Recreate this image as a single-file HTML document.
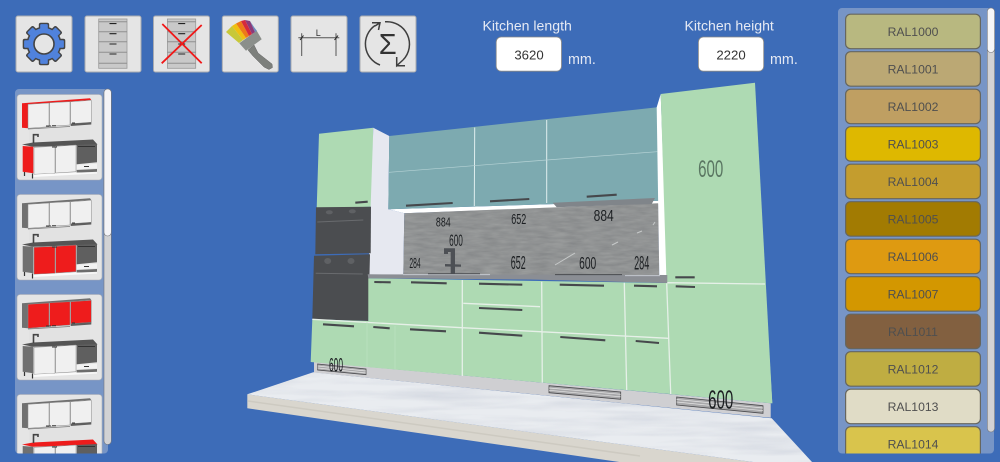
<!DOCTYPE html>
<html><head><meta charset="utf-8"><title>Kitchen</title>
<style>
html,body{margin:0;padding:0;background:#3d6cb8;width:1000px;height:462px;overflow:hidden}
svg{display:block}
text{font-family:"Liberation Sans",sans-serif}
.ral{font-size:12.2px;fill:#4f4f4f;text-anchor:middle}
.sw{stroke:#66665f;stroke-width:1.2}
.btn{fill:#e5e5e5;stroke:#a9abb0;stroke-width:1}
.dim{fill:#1c1f22}
.h{stroke:#46484c;stroke-width:2.1;fill:none}
.wl{stroke:#e6f0e8;stroke-width:1.3;fill:none}
.d{stroke:#8c8c8c;stroke-width:.5}
</style></head><body>
<svg width="1000" height="462" viewBox="0 0 1000 462" xmlns="http://www.w3.org/2000/svg">
<defs>
<filter id="stone" x="0" y="0" width="100%" height="100%" color-interpolation-filters="sRGB"><feTurbulence type="fractalNoise" baseFrequency="0.06 0.3" numOctaves="3" seed="5"/><feColorMatrix values="0 0 0 0 .46  0 0 0 0 .47  0 0 0 0 .48  .8 0 0 0 -.15"/><feComposite in2="SourceGraphic" operator="in"/><feMerge><feMergeNode in="SourceGraphic"/><feMergeNode/></feMerge></filter>
<filter id="marble" x="0" y="0" width="100%" height="100%" color-interpolation-filters="sRGB"><feTurbulence type="fractalNoise" baseFrequency="0.01 0.11" numOctaves="3" seed="8"/><feColorMatrix values="0 0 0 0 .8  0 0 0 0 .82  0 0 0 0 .86  1.4 0 0 0 -.55"/><feComposite in2="SourceGraphic" operator="in"/><feMerge><feMergeNode in="SourceGraphic"/><feMergeNode/></feMerge></filter>
<clipPath id="leftclip"><rect x="15" y="89" width="93" height="364.5" rx="4"/></clipPath>
<clipPath id="rightclip"><rect x="838" y="8" width="156" height="445.5" rx="4"/></clipPath>
<g id="cab">
<rect x="98.7" y="19" width="28.3" height="49.3" fill="#c9c9c9" stroke="#9a9a9a" stroke-width=".8"/>
<path d="M98.7 21.7H127M98.7 31.7H127M98.7 41.7H127M98.7 52.3H127M98.7 63.3H127" stroke="#8f8f8f" stroke-width="1"/>
<path d="M109.5 23.6h7M109.5 33.7h7M109.5 44h7M109.5 54h7" stroke="#222" stroke-width="1.1"/>
</g>
<g id="mini">
<polygon points="29,108 90,104 90,160 29,165" fill="#e2e2e2"/>
<polygon points="22,103.3 90,98.3 91.3,100 28,105" style="fill:var(--us)"/>
<polygon points="22,103.3 28,104.3 28,128.3 22,127.7" style="fill:var(--us)"/>
<polygon class="d" points="28,104.3 49,103 49,126.7 28,128.3" style="fill:var(--ud)"/>
<polygon class="d" points="49.7,102.7 70,101.7 70,125 49.7,126.3" style="fill:var(--ud)"/>
<polygon class="d" points="70.7,101.7 91.3,100.3 91.3,122.3 70.7,123.7" style="fill:var(--ud)"/>
<polygon points="70.7,123.7 91.3,122.3 91.3,124.5 70.7,126" fill="#5e5e5e"/>
<path d="M28 129 L70 126.5" stroke="#777" stroke-width=".7"/>
<path d="M46 126h5M52 125.7h4M72 123h3" stroke="#333" stroke-width="1"/>
<polygon points="22,144.5 33,142.5 93,139.5 97.5,144.5 33,146.7" style="fill:var(--c)"/>
<path d="M33.5 143V134.7H38V137" stroke="#444" stroke-width="1.6" fill="none"/>
<polygon points="22.7,146 33.3,146.7 33.3,173.3 22.7,171.7" style="fill:var(--bs)"/>
<polygon class="d" points="34,147.3 55,146.3 55,173.3 34,174.3" style="fill:var(--bd)"/>
<polygon class="d" points="55.7,146.3 76,145 76,171.7 55.7,173" style="fill:var(--bd)"/>
<polygon points="76.7,145 97,144 97,162.3 76.7,164.3" fill="#5f5f5f"/>
<polygon points="76.7,165 97,163.7 97,168.3 76.7,169.3" fill="#f2f2f2"/>
<polygon points="76.7,170 97,169 97,171.7 76.7,172.7" fill="#6d6d6d"/>
<path d="M84 166.5h5M52 147h5M78 146.5h17" stroke="#333" stroke-width=".9"/>
<polygon points="33.3,174.5 76,172.5 97,172.3 97,173.5 33.3,177" fill="#fafafa"/>
<path d="M24.5 172v4M32.5 173.5v5" stroke="#333" stroke-width="1.2"/>
</g>
</defs>
<rect width="1000" height="462" fill="#3d6cb8"/>

<!-- toolbar -->
<rect class="btn" x="16" y="16" width="56" height="56" rx="2"/>
<rect class="btn" x="85" y="16" width="56" height="56" rx="2"/>
<rect class="btn" x="153.5" y="16" width="56" height="56" rx="2"/>
<rect class="btn" x="222.3" y="16" width="56" height="56" rx="2"/>
<rect class="btn" x="291" y="16" width="56" height="56" rx="2"/>
<rect class="btn" x="360" y="16" width="56" height="56" rx="2"/>
<g transform="translate(44 44)">
<circle r="17.5" fill="#444"/>
<g fill="#444"><rect x="-5.2" y="-21.3" width="10.4" height="42.6" rx="2"/><rect x="-5.2" y="-21.3" width="10.4" height="42.6" rx="2" transform="rotate(45)"/><rect x="-5.2" y="-21.3" width="10.4" height="42.6" rx="2" transform="rotate(90)"/><rect x="-5.2" y="-21.3" width="10.4" height="42.6" rx="2" transform="rotate(135)"/></g>
<circle r="16" fill="#5082dc"/>
<g fill="#5082dc"><rect x="-3.8" y="-19.9" width="7.6" height="39.8" rx="1"/><rect x="-3.8" y="-19.9" width="7.6" height="39.8" rx="1" transform="rotate(45)"/><rect x="-3.8" y="-19.9" width="7.6" height="39.8" rx="1" transform="rotate(90)"/><rect x="-3.8" y="-19.9" width="7.6" height="39.8" rx="1" transform="rotate(135)"/></g>
<circle r="10" fill="#e5e5e5" stroke="#444" stroke-width="1.6"/>
</g>
<use href="#cab"/>
<use href="#cab" x="68.7"/>
<path d="M162.3 24L201.7 63.3M201.7 25L161.7 63.3" stroke="#f01818" stroke-width="1.8"/>
<polygon points="248,50 254,45 258,53 272,64 272.5,67.5 269,69.5 264,67 253,56" fill="#7d807c" stroke="#666" stroke-width=".5"/>
<polygon points="239.3,43.3 256.7,30.7 261.7,39.3 246,50.7" fill="#8b8f8b"/>
<polygon points="239,43 243,40 232,26 226,32" fill="#c8c838"/>
<polygon points="243,40 246,38 236,23.5 232,26" fill="#f0c010"/>
<polygon points="246,38 249,36 241,21 236,23.5" fill="#ee7a18"/>
<polygon points="249,36 252,34 245,20 241,21" fill="#d62a3c"/>
<polygon points="252,34 255,32 250,21 245,20" fill="#8c3a78"/>
<polygon points="255,32 257,31 254,27 250,21" fill="#6a8abc"/>
<path d="M298.3 37.7H339.3M301.7 33.3V56M336 33.3V56" stroke="#555" stroke-width="1"/>
<path d="M300 40l3.5-4.5M334.5 40l3.5-4.5" stroke="#222" stroke-width="1"/>
<text x="318.3" y="36" font-size="9" fill="#333" text-anchor="middle">L</text>
<g fill="none" stroke="#3f3f3f" stroke-width="1.5">
<path d="M385 21.8A22.5 22.5 0 0 1 403 60"/>
<path d="M396.7 65.7H405M396.7 57V65.7L403 60"/>
<path d="M380 65A22.5 22.5 0 0 1 375 25.5"/>
<path d="M372 22.7H380L378.5 30M380 22.7L375 26"/>
</g>
<text x="387.7" y="54" font-size="29" fill="#333" text-anchor="middle">Σ</text>

<!-- inputs -->
<text x="482.5" y="30.5" font-size="14.1" fill="#e6eaf4">Kitchen length</text>
<text x="684.5" y="30.5" font-size="14.1" fill="#e6eaf4">Kitchen height</text>
<rect x="496.2" y="37" width="65.3" height="34.2" rx="5" fill="#fff" stroke="#888" stroke-width=".8"/>
<rect x="698.4" y="37" width="65.3" height="34.2" rx="5" fill="#fff" stroke="#888" stroke-width=".8"/>
<text x="529" y="59.5" font-size="13.2" fill="#333" text-anchor="middle">3620</text>
<text x="731" y="59.5" font-size="13.2" fill="#333" text-anchor="middle">2220</text>
<text x="568" y="64" font-size="14.3" fill="#e6eaf4">mm.</text>
<text x="770" y="64" font-size="14.3" fill="#e6eaf4">mm.</text>

<!-- left panel -->
<rect x="15" y="89" width="93" height="364.5" rx="4" fill="#7795c6"/>
<g clip-path="url(#leftclip)">
<rect x="17" y="94.5" width="85" height="85.5" rx="3" fill="#e5e5e5" stroke="#a9acb2" stroke-width=".6"/>
<rect x="17" y="194.5" width="85" height="85.5" rx="3" fill="#e5e5e5" stroke="#a9acb2" stroke-width=".6"/>
<rect x="17" y="294.5" width="85" height="85.5" rx="3" fill="#e5e5e5" stroke="#a9acb2" stroke-width=".6"/>
<rect x="17" y="394.5" width="85" height="85.5" rx="3" fill="#e5e5e5" stroke="#a9acb2" stroke-width=".6"/>
<use href="#mini" style="--us:#ee1c1c;--ud:#f0f0f0;--c:#555;--bs:#ee1c1c;--bd:#f0f0f0"/>
<use href="#mini" y="100" style="--us:#707070;--ud:#f0f0f0;--c:#555;--bs:#707070;--bd:#ee1c1c"/>
<use href="#mini" y="200" style="--us:#707070;--ud:#ee1c1c;--c:#555;--bs:#707070;--bd:#f0f0f0"/>
<use href="#mini" y="300" style="--us:#707070;--ud:#f0f0f0;--c:#ee1c1c;--bs:#707070;--bd:#f0f0f0"/>
</g>
<rect x="104" y="89" width="7.3" height="355.5" rx="3.6" fill="#d2d2d4" stroke="#72757c" stroke-width=".6"/>
<rect x="104" y="89" width="7.3" height="147" rx="3.6" fill="#f4f3f6" stroke="#72757c" stroke-width=".6"/>

<!-- floor -->
<polygon points="247.3,394.3 247.3,408.3 619.3,462 753,462" fill="#d9d6ce"/>
<path d="M248 401L640 456" stroke="#cdcac1" stroke-width="1.5" fill="none"/>
<polygon points="247.3,394.3 313.3,372.3 771.7,418.3 812,462 753,462" fill="#e9ecf0" filter="url(#marble)"/>
<polygon points="314,362 770.7,403.3 770.7,417.8 314,372.5" fill="#cfcfd2"/>

<!-- upper -->
<polygon points="319,133.7 373.3,127.7 371.7,206.7 316.7,208.3" fill="#aedab3"/>
<polygon points="373.3,127.7 389.3,136 388.3,209.3 404.3,213.3 403.3,276 368.3,276" fill="#e6e8f0"/>
<polygon points="388.3,209.3 659.3,200.7 660,204 404.3,213.3" fill="#fff"/>
<polygon points="404.3,213.3 658.3,203.3 659.3,276.5 403.3,276" fill="#9a9c9c" filter="url(#stone)"/>
<path d="M555 265L575 253M612 245L618 242M637 233L642 231M653 225L655 222" stroke="#c6c9c9" stroke-width="1" fill="none"/>
<polygon points="389.3,136 657.3,107.3 659.3,200.7 388.3,209.3" fill="#7daab0"/>
<path d="M474.7 127.5L474.3 206M546.7 120L546.7 203" stroke="#dfeeef" stroke-width="1"/>
<path d="M389 172.3L546.7 160L657.3 151.7" stroke="#b5d2d5" stroke-width=".7" fill="none"/>
<polygon points="552.7,202.7 655,198 651.7,204 556.7,207.3" fill="#80858a"/>
<path class="h" d="M406 205.7L452.7 203M490 201.3L529.3 199M586.7 196.7L616.7 194.7M355.3 202.7L367.7 201.7"/>

<!-- right tall -->
<polygon points="656.7,107.3 660.7,94 667.3,277 659.3,277" fill="#fff"/>
<polygon points="660.7,94 755,82.7 772.3,403.3 670,394" fill="#aedab3"/>

<!-- ovens -->
<polygon points="316,207.3 371,206.7 370.7,253.3 315.3,254.3" fill="#4b4d50"/>
<polygon points="314,255.7 370,254.3 368.3,321 312.3,319.3" fill="#4b4d50"/>
<ellipse cx="329.3" cy="212.3" rx="3.5" ry="2" fill="#5f6164"/><ellipse cx="352.3" cy="211.3" rx="3.5" ry="2" fill="#5f6164"/>
<ellipse cx="327.7" cy="261" rx="3.5" ry="3" fill="#5f6164"/><ellipse cx="351" cy="261" rx="3.5" ry="3" fill="#5f6164"/>
<path d="M317.3 222L363.3 220M315.7 273.3L362.7 274" stroke="#696b6e" stroke-width="1"/>

<!-- base -->
<polygon points="368.3,278.3 667,283 670,394 310.7,362 312.3,319.3 368.3,321" fill="#aedab3"/>
<polygon points="666,283 765,284 772.3,403.3 670,394" fill="#aedab3"/>
<polygon points="367.7,274.3 667.3,275 667.3,283 530,279.5 368.3,278.3" fill="#8b8e94"/>
<path d="M403 274.6H490M625 275.6H660" stroke="#c4c8ce" stroke-width="1"/>
<path d="M428 273.8H480M555 274.6H622" stroke="#4a4c50" stroke-width="1"/>
<path class="wl" d="M312.3 319.3L461.7 327.7L540 331.7L668.3 338.3M463.3 303.3L540 306.7M462.3 280V376M541.7 281.7L542.3 382.7M624.3 282.7L626.7 390M666.7 283.3L670.7 394M667.3 282.7L765 284"/>
<path d="M367 322V367M395 326V369" stroke="#bde3c2" stroke-width=".7"/>
<path class="h" d="M374.3 282L390.7 282.3M411 282.3L446.7 283.3M479 283.7L522.3 284.7M479 308L522.3 310M479 332.7L522.3 335.7M323 324.3L354 326.3M373.3 327L389.7 328.3M410 329.3L446 331.3M559.7 284.7L604 285.7M634 285.7L657 286.3M675.3 277.3L694.7 277.3M675.7 286.3L695 287M560.3 337L605.3 340.3M635.7 341L659 343"/>

<!-- vents -->
<g fill="#a8a8aa" stroke="#4a4a4d" stroke-width=".8">
<polygon points="317.7,364 366,369 366,374.7 317.7,370"/>
<polygon points="549,385.7 620.7,392 620.7,399.3 549,392.7"/>
<polygon points="676.7,397 763,405.7 763,413.3 676.7,405"/>
</g>
<path d="M549 388L620.7 394.3M549 390.3L620.7 396.8M676.7 399.5L763 408M676.7 402L763 410.7M317.7 366L366 371M317.7 368L366 373" stroke="#e4e4e4" stroke-width=".7"/>

<!-- faucet -->
<g fill="#4d5055"><polygon points="444,248.3 455,248.3 455,273.5 450.7,273.5 450.7,252 448,252 448,254 444,254"/><polygon points="445,264 461,264.5 461,266.7 445,266.5"/></g>

<!-- dimension labels -->
<text class="dim" transform="translate(443.3 226.5) scale(.68 1)" font-size="13" text-anchor="middle">884</text>
<text class="dim" transform="translate(518.7 224) scale(.62 1)" font-size="14.5" text-anchor="middle">652</text>
<text class="dim" transform="translate(456 246) scale(.5 1)" font-size="16.5" text-anchor="middle">600</text>
<text class="dim" transform="translate(415 268.2) scale(.45 1)" font-size="15" text-anchor="middle">284</text>
<text class="dim" transform="translate(518.3 269.2) scale(.5 1)" font-size="18" text-anchor="middle">652</text>
<text class="dim" transform="translate(603.7 221.2) scale(.78 1)" font-size="15.5" text-anchor="middle">884</text>
<text class="dim" transform="translate(587.7 268.8) scale(.57 1)" font-size="18" text-anchor="middle">600</text>
<text class="dim" transform="translate(641.7 269.3) scale(.48 1)" font-size="19" text-anchor="middle">284</text>
<text transform="translate(710.7 176.8) scale(.64 1)" font-size="23.6" text-anchor="middle" fill="#5a7662">600</text>
<text class="dim" transform="translate(336 371.3) scale(.43 1)" font-size="19.5" text-anchor="middle">600</text>
<text class="dim" transform="translate(720.7 408.5) scale(.58 1)" font-size="26" text-anchor="middle">600</text>

<!-- right panel -->
<rect x="838" y="8" width="156" height="445.5" rx="4" fill="#7795c6"/>
<g clip-path="url(#rightclip)">
<rect class="sw" x="845.6" y="14.2" width="134.8" height="34.5" rx="5" fill="#b8b880"/>
<rect class="sw" x="845.6" y="51.7" width="134.8" height="34.5" rx="5" fill="#bba874"/>
<rect class="sw" x="845.6" y="89.2" width="134.8" height="34.5" rx="5" fill="#bf9f62"/>
<rect class="sw" x="845.6" y="126.7" width="134.8" height="34.5" rx="5" fill="#deb800"/>
<rect class="sw" x="845.6" y="164.2" width="134.8" height="34.5" rx="5" fill="#c49d2e"/>
<rect class="sw" x="845.6" y="201.7" width="134.8" height="34.5" rx="5" fill="#a27b02"/>
<rect class="sw" x="845.6" y="239.2" width="134.8" height="34.5" rx="5" fill="#de9a11"/>
<rect class="sw" x="845.6" y="276.7" width="134.8" height="34.5" rx="5" fill="#d39700"/>
<rect class="sw" x="845.6" y="314.2" width="134.8" height="34.5" rx="5" fill="#826040"/>
<rect class="sw" x="845.6" y="351.7" width="134.8" height="34.5" rx="5" fill="#bfad42"/>
<rect class="sw" x="845.6" y="389.2" width="134.8" height="34.5" rx="5" fill="#e0dcc6"/>
<rect class="sw" x="845.6" y="426.7" width="134.8" height="34.5" rx="5" fill="#d9c44c"/>
<text class="ral" x="913" y="36">RAL1000</text>
<text class="ral" x="913" y="73.5">RAL1001</text>
<text class="ral" x="913" y="111">RAL1002</text>
<text class="ral" x="913" y="148.5">RAL1003</text>
<text class="ral" x="913" y="186">RAL1004</text>
<text class="ral" x="913" y="223.5">RAL1005</text>
<text class="ral" x="913" y="261">RAL1006</text>
<text class="ral" x="913" y="298.5">RAL1007</text>
<text class="ral" x="913" y="336">RAL1011</text>
<text class="ral" x="913" y="373.5">RAL1012</text>
<text class="ral" x="913" y="411">RAL1013</text>
<text class="ral" x="913" y="448.5">RAL1014</text>
</g>
<rect x="987.3" y="8" width="7.3" height="424" rx="3.6" fill="#d2d2d4" stroke="#72757c" stroke-width=".6"/>
<rect x="987.3" y="8" width="7.3" height="44.5" rx="3.6" fill="#f6f6f8" stroke="#72757c" stroke-width=".6"/>
</svg>
</body></html>
